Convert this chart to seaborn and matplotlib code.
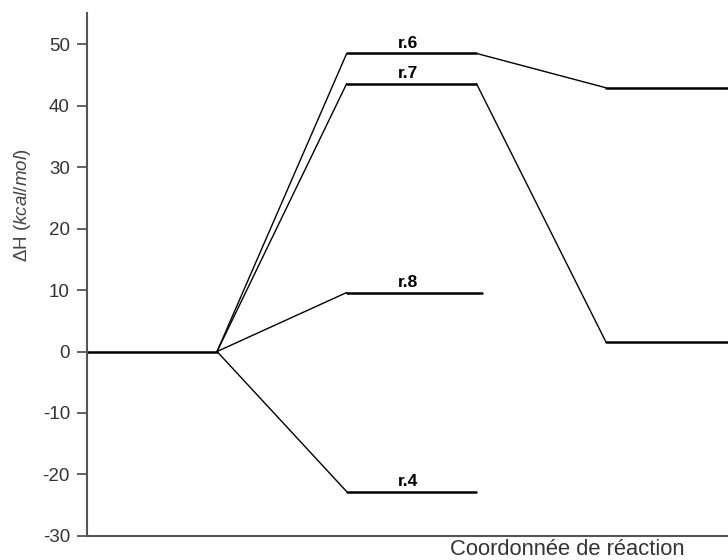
import numpy as np
import pandas as pd
import matplotlib
matplotlib.use("Agg")
import matplotlib.pyplot as plt
import seaborn as sns

# energy levels (kcal/mol), one per stage of each pathway
reactions = ["r.6", "r.7", "r.8", "r.4"]
reactant_H = 0.0
intermediate_H = [48.5, 43.6, 9.6, -22.8]
product_H = [42.9, 1.5, None, None]

# stage x extents (start, end)
stages = [(0.0, 1.0), (2.0, 3.0), (4.0, 5.0)]
level_ends = {"r.8": 3.04}

sns.set_style("white")
plt.rcParams["font.family"] = ["Liberation Sans", "DejaVu Sans"]
plt.rcParams["mathtext.fontset"] = "custom"
plt.rcParams["mathtext.rm"] = "Liberation Sans"
plt.rcParams["mathtext.it"] = "Liberation Sans:italic"
plt.rcParams["axes.unicode_minus"] = False

# build level segments and connectors from the values
lev_rows, con_rows = [], []
lev_rows += [("r0", stages[0][0], reactant_H), ("r0", stages[0][1], reactant_H)]
for name, mid, prod in zip(reactions, intermediate_H, product_H):
    x0, x1 = stages[1]
    x1 = level_ends.get(name, x1)
    lev_rows += [(name + "_i", x0, mid), (name + "_i", x1, mid)]
    con_rows += [(name + "_a", stages[0][1], reactant_H), (name + "_a", x0, mid)]
    if prod is not None:
        lev_rows += [(name + "_p", stages[2][0], prod), (name + "_p", stages[2][1], prod)]
        con_rows += [(name + "_b", x1, mid), (name + "_b", stages[2][0], prod)]

lev = pd.DataFrame(lev_rows, columns=["seg", "x", "y"])
con = pd.DataFrame(con_rows, columns=["seg", "x", "y"])

fig = plt.figure(figsize=(7.28, 5.6), dpi=100)
ax = fig.add_axes([0.12, 0.043, 0.88, 0.933])

sns.lineplot(data=con, x="x", y="y", units="seg", estimator=None, sort=False,
             color="black", lw=1.0, ax=ax)
sns.lineplot(data=lev, x="x", y="y", units="seg", estimator=None, sort=False,
             color="black", lw=1.8, ax=ax)

for name, mid in zip(reactions, intermediate_H):
    ax.text(2.47, mid + 0.45, name, ha="center", va="bottom",
            fontsize=12.5, fontweight="bold", color="black")

ax.set_xlim(0, 4.94)
ax.set_ylim(-30, 55)
ax.set_yticks(np.arange(-30, 51, 10))
ax.set_xticks([])

for s in ["top", "right"]:
    ax.spines[s].set_visible(False)
for s in ["left", "bottom"]:
    ax.spines[s].set_color("#555555")
    ax.spines[s].set_linewidth(1.5)
ax.tick_params(axis="y", left=True, direction="out", length=7.5, width=1.3,
               color="#555555", labelcolor="#333333", labelsize=13.5, pad=5)

ax.set_ylabel(r"ΔH ($\mathit{kcal/mol}$)", fontsize=13.5, color="#444444")
ax.yaxis.set_label_coords(-0.085, 0.633)
ax.set_xlabel("Coordonnée de réaction", fontsize=15.8, color="#333333")
ax.xaxis.set_label_coords(0.566, -0.036)
ax.xaxis.label.set_ha("left")
ax.xaxis.label.set_va("baseline")

fig.savefig("out.png", dpi=100)
